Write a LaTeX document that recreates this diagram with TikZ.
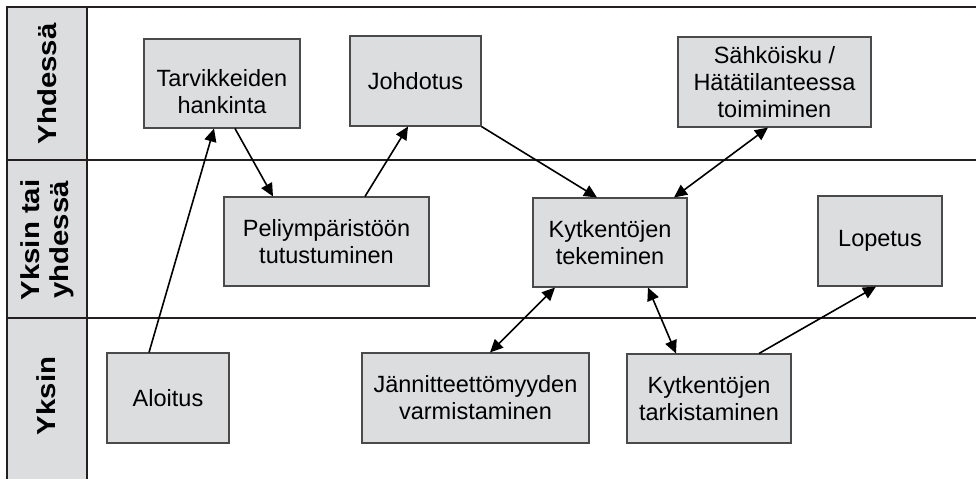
\documentclass[tikz,border=0pt]{standalone}
\usepackage{fontspec}
\setmainfont{Liberation Sans}
\usetikzlibrary{arrows.meta}
\definecolor{framecol}{HTML}{231F20}
\definecolor{boxfill}{HTML}{DCDDDF}
\definecolor{boxline}{HTML}{4A4A4A}
\tikzset{
  frameline/.style={draw=framecol, line width=1.8pt},
  box/.style={draw=boxline, fill=boxfill, line width=1.1pt, inner sep=0pt,
    align=center, font=\fontsize{23.5}{27}\selectfont},
  lane/.style={rotate=90, xscale=1.13, align=center, inner sep=0pt,
    font=\fontsize{26}{29}\selectfont\bfseries},
  tip/.style={Triangle[length=13pt,width=12pt]},
  arr/.style={draw=black, line width=1.6pt, -{Triangle[length=13pt,width=12pt]}},
  biarr/.style={draw=black, line width=1.6pt, {Triangle[length=13pt,width=12pt]}-{Triangle[length=13pt,width=12pt]}}
}
\begin{document}
\begin{tikzpicture}[x=1pt, y=-1pt]
\useasboundingbox (0,0) rectangle (976,479);

% swimlane frame
\fill[boxfill] (7,7) rectangle (87,479);
\draw[frameline] (976,7) -- (7,7) -- (7,479);
\draw[frameline] (87,7) -- (87,479);
\draw[frameline] (7,160) -- (976,160);
\draw[frameline] (7,318) -- (976,318);

% lane titles
\node[lane] (l1) at (47,84) {Yhdessä};
\node[lane] (l2) at (47,240) {Yksin tai\\yhdessä};
\node[lane] (l3) at (46,396) {Yksin};

% activity boxes
\node[box, minimum width=156pt, minimum height=89pt] (tarv) at (222,83.5)
  {\rule{0pt}{34pt}Tarvikkeiden\\hankinta};
\node[box, minimum width=131pt, minimum height=90pt] (john) at (415.5,81) {Johdotus};
\node[box, minimum width=193pt, minimum height=90pt] (sahk) at (774.5,82)
  {Sähköisku /\\Hätätilanteessa\\toimiminen};
\node[box, minimum width=205pt, minimum height=89pt] (peli) at (326.5,241.5)
  {Peliympäristöön\\tutustuminen};
\node[box, minimum width=154pt, minimum height=89pt] (kytk) at (610,242.5)
  {Kytkentöjen\\tekeminen};
\node[box, minimum width=124pt, minimum height=90pt] (lope) at (880,241) {Lopetus};
\node[box, minimum width=122pt, minimum height=90pt] (aloi) at (168,398) {Aloitus};
\node[box, minimum width=227pt, minimum height=90pt] (jann) at (475.5,398)
  {Jännitteettömyyden\\varmistaminen};
\node[box, minimum width=164pt, minimum height=89pt] (tark) at (709,398.5)
  {Kytkentöjen\\tarkistaminen};

% flow
\draw[arr] ([xshift=-19pt]aloi.north) -- ([xshift=-8pt]tarv.south);
\draw[arr] ([xshift=13pt]tarv.south) -- ([xshift=-53.5pt]peli.north);
\draw[arr] ([xshift=38.5pt]peli.north) -- ([xshift=-7.5pt]john.south);
\draw[arr] (john.south east) -- ([xshift=-13pt]kytk.north);
\draw[biarr] ([xshift=-6.5pt]sahk.south) -- ([xshift=64pt]kytk.north);
\draw[biarr] ([xshift=-55pt]kytk.south) -- ([xshift=14.5pt]jann.north);
\draw[biarr] ([xshift=38pt]kytk.south) -- ([xshift=-33pt]tark.north);
\draw[arr] ([xshift=50pt]tark.north) -- ([xshift=-4pt]lope.south);
\end{tikzpicture}
\end{document}
